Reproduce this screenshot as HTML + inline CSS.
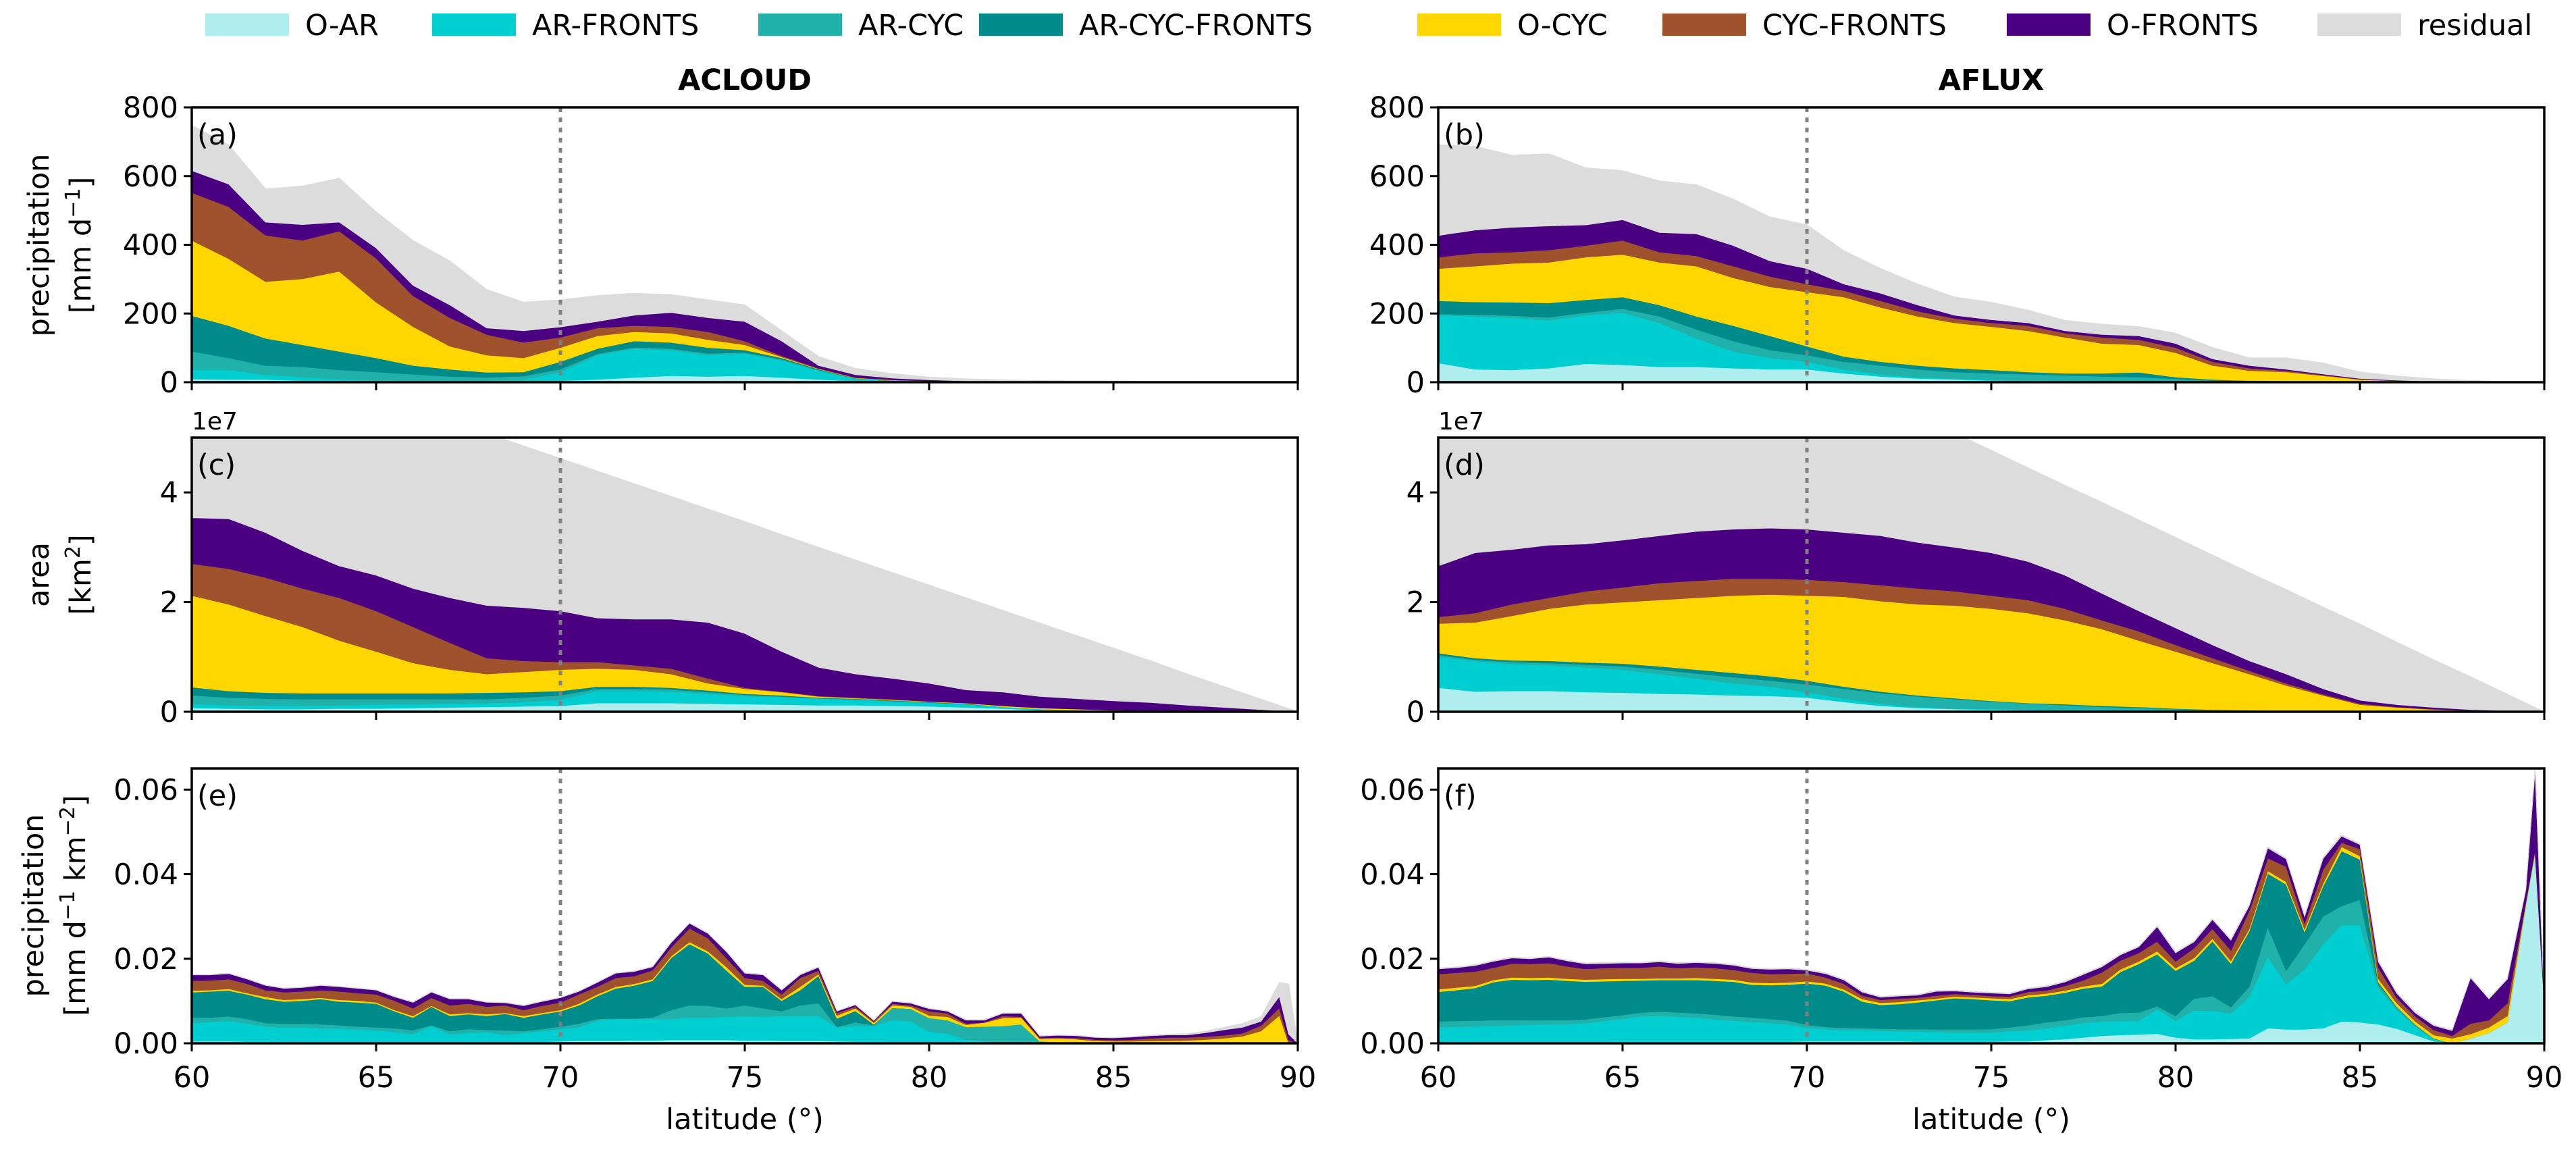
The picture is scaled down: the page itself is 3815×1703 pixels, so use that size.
<!DOCTYPE html>
<html><head><meta charset="utf-8"><style>
html,body{margin:0;padding:0;background:#fff;}
svg{display:block;font-family:"DejaVu Sans","Liberation Sans",sans-serif;}
</style></head><body>
<svg id="fig" width="3815" height="1703" viewBox="0 0 3815 1703" xmlns="http://www.w3.org/2000/svg">
<g id="legend"></g>
<text x="1103" y="133" font-size="43" font-weight="bold" text-anchor="middle">ACLOUD</text>
<text x="2949" y="133" font-size="43" font-weight="bold" text-anchor="middle">AFLUX</text>
<g id="panels"></g>
<text font-size="43" text-anchor="middle" transform="translate(72,363) rotate(-90)">precipitation</text>
<text font-size="43" text-anchor="middle" transform="translate(134,363) rotate(-90)">[mm d<tspan font-size="30" dy="-16">−1</tspan><tspan dy="16">]</tspan></text>
<text font-size="43" text-anchor="middle" transform="translate(72,851) rotate(-90)">area</text>
<text font-size="43" text-anchor="middle" transform="translate(134,851) rotate(-90)">[km<tspan font-size="30" dy="-16">2</tspan><tspan dy="16">]</tspan></text>
<text font-size="43" text-anchor="middle" transform="translate(64,1341) rotate(-90)">precipitation</text>
<text font-size="43" text-anchor="middle" transform="translate(126,1341) rotate(-90)">[mm d<tspan font-size="30" dy="-16">−1</tspan><tspan dy="16"> km</tspan><tspan font-size="30" dy="-16">−2</tspan><tspan dy="16">]</tspan></text>
<text x="1103" y="1672" font-size="43" text-anchor="middle">latitude (°)</text>
<text x="2949" y="1672" font-size="43" text-anchor="middle">latitude (°)</text>
</svg>
<script>
const latDeg = [60,61,62,63,64,65,66,67,68,69,70,71,72,73,74,75,76,77,78,79,80,81,82,83,84,85,86,87,88,89,90];
const latHalf = [60,60.5,61,61.5,62,62.5,63,63.5,64,64.5,65,65.5,66,66.5,67,67.5,68,68.5,69,69.5,70,70.5,71,71.5,72,72.5,73,73.5,74,74.5,75,75.5,76,76.5,77,77.5,78,78.5,79,79.5,80,80.5,81,81.5,82,82.5,83,83.5,84,84.5,85,85.5,86,86.5,87,87.5,88,88.5,89,89.5,89.75,90];
const seriesNames = ["O-AR","AR-FRONTS","AR-CYC","AR-CYC-FRONTS","O-CYC","CYC-FRONTS","O-FRONTS","residual"];
const seriesColors = ["#afeeee","#00ced1","#20b2aa","#008b8b","#ffd700","#a0522d","#4b0082","#dcdcdc"];
const xTicks = [60,65,70,75,80,85,90];
const precipTicks = [0,200,400,600,800];
const areaTicks = [0,2,4];
const areaTickLabels = ["0","2","4"];
const densTicks = [0,20,40,60];
const densTickLabels = ["0.00","0.02","0.04","0.06"];

// (a) ACLOUD precipitation [mm/d]
const aOAR = [9,8,8,5,5,4,3,3,3,3,5,8,14,19,17,19,14,8,4,2,1,1,0,0,0,0,0,0,0,0,0];
const aARFR = [27,28,14,10,4,2,2,2,2,5,25,71,84,75,62,64,50,26,6,3,2,1,1,0,0,0,0,0,0,0,0];
const aARCYC = [54,35,27,30,27,24,18,12,9,10,8,4,4,4,5,4,3,2,1,1,0,0,0,0,0,0,0,0,0,0,0];
const aARCYCFR = [104,94,79,64,54,41,26,21,15,12,22,15,18,18,17,7,4,2,1,0,0,0,0,0,0,0,0,0,0,0,0];
const aOCYC = [219,195,165,192,233,162,113,67,50,41,41,37,27,27,23,15,3,1,1,1,1,0,0,0,0,0,0,0,0,0,0];
const aCYCFR = [139,151,135,112,117,128,90,83,60,45,30,23,18,19,23,11,3,2,1,0,0,0,0,0,0,0,0,0,0,0,0];
const aOFR = [64,66,38,46,26,30,30,37,19,34,30,19,30,41,41,57,43,8,8,5,3,2,2,1,1,1,1,0,0,0,0];
const aRES = [132,114,97,112,128,105,131,128,112,83,79,75,64,52,52,48,30,26,18,13,8,6,4,4,3,3,2,2,1,0,0];
// (b) AFLUX precipitation
const bOAR = [56,38,36,41,54,51,45,45,41,38,38,26,17,11,8,5,4,3,2,2,1,1,0,0,0,0,0,0,0,0,0];
const bARFR = [139,154,152,139,141,152,128,83,49,33,22,12,6,4,3,3,2,2,2,1,1,0,1,0,0,0,0,0,0,0,0];
const bARCYC = [4,5,6,9,8,11,19,26,30,23,19,22,26,23,19,18,17,15,13,12,8,4,2,2,2,1,0,0,0,0,0];
const bARCYCFR = [38,37,39,42,37,34,33,38,45,41,26,15,11,11,11,10,7,6,9,14,5,3,2,2,1,1,1,0,0,0,0];
const bOCYC = [94,104,113,118,124,124,124,146,139,143,158,173,158,143,132,126,120,105,87,80,71,41,29,26,16,6,3,2,1,0,0];
const bCYCFR = [33,38,33,36,34,41,30,30,34,30,23,19,19,15,13,11,15,12,18,15,15,11,7,4,2,1,1,0,0,0,0];
const bOFR = [63,67,72,70,60,60,57,64,60,45,45,19,22,18,9,9,8,7,8,11,12,8,8,4,3,2,1,1,0,0,0];
const bRES = [264,244,210,210,166,143,150,143,135,128,127,97,72,61,53,51,37,30,30,27,30,33,22,33,32,19,12,7,4,2,0];
// (c) ACLOUD area [1e7 km2]
const cOAR = [.07,.06,.05,.05,.06,.06,.07,.08,.09,.10,.11,.16,.16,.16,.15,.14,.13,.12,.12,.11,.10,.08,.06,.03,.02,.01,.01,0,0,0,0];
const cARFR = [.07,.06,.06,.06,.06,.07,.07,.07,.07,.08,.11,.22,.22,.21,.18,.15,.14,.12,.10,.08,.07,.06,.03,.02,.01,.01,0,0,0,0,0];
const cARCYC = [.16,.14,.13,.12,.11,.10,.09,.08,.07,.08,.08,.04,.04,.04,.03,.02,.01,.01,.01,.01,0,0,0,0,0,0,0,0,0,0,0];
const cARCYCFR = [.15,.12,.11,.11,.11,.11,.11,.11,.12,.10,.08,.04,.04,.03,.03,.02,.02,.01,.01,.01,.01,.01,0,0,0,0,0,0,0,0,0];
const cOCYC = [1.67,1.58,1.40,1.21,.96,.76,.55,.43,.34,.37,.39,.33,.31,.25,.13,.09,.06,.02,.01,.01,.01,.01,.02,.02,.02,.01,.01,.01,.01,0,0];
const cCYCFR = [.58,.65,.70,.70,.78,.74,.66,.49,.29,.20,.14,.12,.08,.10,.09,.02,.01,.01,.01,.01,0,0,0,0,0,0,0,0,0,0,0];
const cOFR = [.84,.91,.82,.69,.58,.65,.70,.82,.96,.97,.93,.80,.84,.90,1.02,.99,.73,.52,.43,.38,.33,.24,.25,.21,.19,.17,.15,.11,.07,.04,0];
const cRES = [3.39,3.18,3.20,3.30,3.35,3.29,3.30,3.23,3.14,2.95,2.78,2.68,2.47,2.24,2.07,2.04,2.13,2.19,2.08,1.93,1.79,1.68,1.49,1.34,1.15,.96,.76,.57,.38,.19,0];
// (d) AFLUX area [1e7 km2]
const dOAR = [.44,.37,.38,.38,.36,.35,.33,.32,.30,.29,.26,.18,.11,.07,.05,.04,.03,.02,.02,.01,.01,.01,0,0,0,0,0,0,0,0,0];
const dARFR = [.56,.56,.49,.47,.45,.42,.36,.29,.22,.17,.10,.06,.04,.02,.01,.01,.01,.01,0,.01,0,0,.01,0,0,0,0,0,0,0,0];
const dARCYC = [.04,.02,.04,.04,.05,.06,.08,.09,.11,.11,.14,.18,.19,.19,.17,.14,.11,.09,.07,.05,.04,.02,.01,.01,.01,0,0,0,0,0,0];
const dARCYCFR = [.03,.03,.03,.04,.04,.05,.06,.07,.08,.08,.07,.04,.03,.02,.02,.01,.01,.02,.02,.02,.01,.01,.01,.01,0,0,0,0,0,0,0];
const dOCYC = [.54,.65,.81,.95,1.06,1.12,1.21,1.31,1.41,1.49,1.55,1.64,1.65,1.66,1.69,1.68,1.64,1.53,1.40,1.21,1.04,.85,.66,.46,.29,.13,.08,.04,.02,.01,0];
const dCYCFR = [.12,.17,.21,.20,.24,.27,.31,.31,.31,.29,.29,.27,.29,.29,.26,.24,.24,.21,.16,.17,.12,.09,.06,.04,.02,.02,.01,.01,0,0,0];
const dOFR = [.93,1.10,1.00,.96,.86,.86,.86,.90,.90,.92,.92,.90,.90,.84,.80,.78,.70,.61,.49,.37,.31,.24,.18,.17,.10,.06,.04,.03,.02,.01,0];
const dRES = [6.88,6.32,5.94,5.55,5.21,4.82,4.42,4.02,3.67,3.33,3.03,2.77,2.51,2.32,2.09,1.87,1.71,1.64,1.66,1.66,1.65,1.64,1.61,1.54,1.49,1.39,1.14,.87,.60,.30,0];
// (e) ACLOUD precipitation per area [1e-3 mm/d/km2]
const eOAR = [.5,.5,.5,.4,.4,.3,.3,.3,.2,.2,.2,.2,.2,.2,.2,.2,.2,.2,.2,.3,.5,.6,.6,.6,.7,.7,.8,.8,.8,.8,.7,.7,.6,.6,.6,.5,.4,.4,.3,.3,.3,.2,.2,.1,.1,.1,.1,.1,.1,0,0,0,0,0,0,0,0,0,0,0,0,0];
const eARFR = [4.3,4.6,4.8,4.3,3.6,3.5,3.5,3.3,3.3,3.0,2.9,2.5,2.0,3.9,2.0,2.3,2.5,1.8,2.3,2.6,2.9,3.2,4.8,5.2,5.1,5.1,5.0,5.3,5.3,5.5,5.7,5.6,5.9,5.9,5.9,3.3,3.7,3.7,5.2,4.9,2.5,2.1,.7,.4,.2,.2,.2,.1,.1,.1,.1,0,0,0,0,0,0,0,0,0,0,0];
const eARCYC = [1.3,1.0,1.1,1.1,.8,.9,.9,.9,.8,.8,.7,.9,.9,.2,.7,.9,.5,1.1,.4,.5,.6,.9,.4,.1,.1,.3,2.1,2.9,2.8,2.0,2.6,2.0,1.1,2.5,3.0,.1,.9,.2,2.9,3.0,3.2,3.2,3.0,3.5,3.8,4.2,.2,.1,0,0,0,0,0,0,0,0,0,0,0,0,0,0];
const eARCYCFR = [6.0,6.2,6.1,5.8,5.7,5.2,5.4,6.0,5.6,5.7,5.6,4.0,3.0,4.4,3.6,3.5,3.3,3.9,3.2,3.5,3.6,4.3,5.4,7.1,7.8,8.7,12.3,14.5,12.4,9.0,4.4,5.1,2.5,3.6,6.5,2.0,2.7,.2,0,0,0,0,0,0,0,0,0,0,0,0,0,0,0,0,0,0,0,0,0,0,0,0];
const eOCYC = [.4,.3,.4,.3,.5,.4,.4,.3,.4,.4,.3,.3,.4,.2,.4,.3,.4,.2,.4,.3,.3,.4,.4,.4,.4,.4,.4,.5,.5,.8,.5,.3,.4,.8,.4,.7,.6,.4,.6,.5,.6,.8,.5,.9,1.9,1.6,.6,.9,.8,.5,.4,.5,.6,.6,.7,.9,1.2,1.7,2.9,6.6,.1,0];
const eCYCFR = [2.3,2.3,2.3,2.2,1.6,1.8,1.8,1.8,2.0,1.8,1.9,2.2,1.8,1.9,2.1,2.2,1.8,1.8,1.4,1.7,1.8,2.2,1.8,2.1,1.8,2.1,2.1,3.2,3.1,2.1,1.6,1.1,1.1,2.1,.8,.6,.4,.3,.4,.3,1.0,.8,.3,.1,.5,.2,.2,.2,.3,.3,.3,.4,.6,.8,.7,.7,.7,.7,1.3,1.8,.7,0];
const eOFR = [1.4,1.3,1.3,1.1,1.1,.9,.9,1.1,1.1,1.1,1.0,.9,1.4,1.3,1.5,1.1,1.0,.6,1.0,1.0,1.1,.7,1.0,1.1,1.1,.8,1.1,1.2,1.1,1.5,1.1,1.4,1.0,.7,.8,.4,.4,.2,.5,.5,.6,.5,.8,.5,.6,.8,.4,.5,.5,.5,.5,.6,.6,.6,.6,.9,1.3,1.4,1.0,2.7,1.4,0];
const eRES = [.1,.1,.1,.1,.1,.1,.1,.1,.1,.1,.1,.1,.1,.1,.1,.1,.1,.1,.1,.1,.1,.1,.1,.1,.1,.1,.1,.1,.1,.1,.1,.1,.1,.1,.1,.1,.1,.1,.1,.1,.1,.1,.1,.1,.1,.1,.1,.1,.1,.1,.1,.1,.1,.2,.3,.4,.6,.9,1.1,3.3,11.8,0];
// (f) AFLUX precipitation per area [1e-3]
const fOAR = [.3,.3,.3,.3,.3,.3,.3,.3,.3,.3,.4,.4,.4,.4,.4,.4,.4,.4,.4,.4,.5,.5,.5,.5,.5,.5,.4,.4,.4,.4,.4,.5,.5,.8,1.0,1.4,1.8,2.0,2.1,2.3,1.4,1.0,1.0,1.1,1.2,3.6,3.3,3.3,3.6,5.2,5.0,4.5,3.5,2.0,.5,0,1.2,2.5,5.0,32.7,45.2,10];
const fARFR = [3.6,3.6,3.7,3.9,4.0,4.1,4.2,4.2,4.5,5.0,5.4,6.0,6.1,5.9,5.7,5.3,5.0,4.7,4.4,4.0,3.2,2.9,2.7,2.6,2.5,2.4,2.4,2.3,2.2,2.2,2.2,2.4,2.6,2.8,3.2,3.4,3.4,3.3,3.2,5.8,4.0,6.8,6.7,6.0,9.8,16.9,10.7,14.2,19.9,22.8,23.0,8.6,4.5,2.0,.5,0,0,0,0,0,0,0];
const fARCYC = [1.3,1.4,1.4,1.3,1.2,1.1,1.0,1.0,.9,.9,.9,.9,1.0,1.0,1.0,1.1,1.0,1.0,1.0,1.0,.7,.5,.5,.5,.5,.5,.6,.6,.7,.7,.8,.9,1.2,1.4,1.3,1.4,1.3,1.9,2.0,.7,1.1,2.8,3.5,1.5,2.4,7.0,3.2,6.0,6.5,4.5,6.0,.9,.5,.4,.1,0,0,0,0,0,0,0];
const fARCYCFR = [7.0,7.3,7.7,9.0,9.6,9.5,9.6,9.3,8.9,8.5,8.1,7.6,7.5,7.7,7.9,8.0,8.2,7.8,8.0,8.5,9.8,9.8,8.6,6.3,5.6,5.9,6.3,6.9,7.4,7.2,6.8,6.2,6.6,6.3,6.5,6.8,7.0,9.7,11.5,12.3,10.7,9.0,13.0,10.3,13.2,12.7,20.4,2.9,7.2,13.0,9.5,.5,.2,.1,.1,0,0,0,0,0,0,0];
const fOCYC = [.6,.6,.5,.5,.5,.5,.5,.5,.5,.5,.5,.4,.4,.4,.5,.5,.5,.5,.5,.5,.5,.5,.5,.6,.5,.5,.5,.4,.4,.4,.5,.5,.5,.5,.5,.5,.6,.6,.6,.7,.6,.6,.6,.6,.5,.6,.6,.6,.6,1.0,.8,.8,.8,.7,.8,1.2,1.0,1.3,1.5,.5,.3,0];
const fCYCFR = [3.6,3.5,3.4,2.9,3.3,3.3,3.4,2.9,2.5,2.6,2.6,2.6,2.8,2.4,2.5,2.5,2.3,2.3,2.1,2.1,1.9,1.4,1.3,.8,.7,.8,.6,.7,.6,.6,.5,.6,.8,.7,1.1,1.4,2.7,2.1,2.0,2.3,1.6,2.3,2.3,2.5,4.3,3.0,3.6,1.4,3.3,1.0,1.7,2.6,1.3,1.2,1.2,.6,2.5,1.7,3.0,.3,.3,0];
const fOFR = [1.2,1.2,1.4,1.5,1.3,1.2,1.4,1.3,1.2,1.1,1.1,1.1,1.1,1.1,1.1,1.1,1.1,1.0,1.1,1.1,.7,.9,.9,.8,.6,.6,.6,1.0,.7,.6,.7,.6,.7,.9,.9,1.4,1.3,1.3,1.4,3.5,2.0,1.5,2.2,2.4,1.2,2.4,1.8,1.6,2.6,1.5,1.0,1.4,1.0,.8,1.0,1.2,10.8,5.0,5.7,2.8,18.8,0];
const fRES = [.2,.2,.2,.2,.2,.2,.2,.2,.2,.2,.2,.2,.2,.2,.2,.2,.2,.2,.2,.2,.2,.2,.2,.2,.2,.2,.2,.2,.2,.2,.2,.2,.2,.2,.2,.2,.2,.2,.2,.2,.2,.2,.2,.2,.2,.3,.3,.3,.3,.3,.3,.3,.3,.3,.2,.2,.2,.2,.2,.2,.2,0];

const NS = "http://www.w3.org/2000/svg";
function mk(tag, attrs, parent){
  const e = document.createElementNS(NS, tag);
  for (const k in attrs) e.setAttribute(k, attrs[k]);
  if (parent) parent.appendChild(e);
  return e;
}
const svg = document.getElementById('fig');
const legend = document.getElementById('legend');
const legendX = [304,640,1123,1450,2099,2462,2972,3432];
seriesNames.forEach((n,i)=>{
  const g = mk('g',{},legend);
  
  
  const r = mk('rect',{x:legendX[i],y:20,width:124,height:33,fill:seriesColors[i]},g);
  
  
  const t = mk('text',{x:legendX[i]+148,y:52,'font-size':43},g);
  
  
  t.textContent = n;
});

const panels = [
  {id:'a', x0:284, y0:159, w:1638, h:407, ymax:800, lat:latDeg, s:[aOAR,aARFR,aARCYC,aARCYCFR,aOCYC,aCYCFR,aOFR,aRES], ticks:precipTicks, tl:precipTicks.map(String), xl:false},
  {id:'b', x0:2130, y0:159, w:1638, h:407, ymax:800, lat:latDeg, s:[bOAR,bARFR,bARCYC,bARCYCFR,bOCYC,bCYCFR,bOFR,bRES], ticks:precipTicks, tl:precipTicks.map(String), xl:false},
  {id:'c', x0:284, y0:648, w:1638, h:406, ymax:5, lat:latDeg, s:[cOAR,cARFR,cARCYC,cARCYCFR,cOCYC,cCYCFR,cOFR,cRES], ticks:areaTicks, tl:areaTickLabels, xl:false, off:true},
  {id:'d', x0:2130, y0:648, w:1638, h:406, ymax:5, lat:latDeg, s:[dOAR,dARFR,dARCYC,dARCYCFR,dOCYC,dCYCFR,dOFR,dRES], ticks:areaTicks, tl:areaTickLabels, xl:false, off:true},
  {id:'e', x0:284, y0:1138, w:1638, h:407, ymax:65, lat:latHalf, s:[eOAR,eARFR,eARCYC,eARCYCFR,eOCYC,eCYCFR,eOFR,eRES], ticks:densTicks, tl:densTickLabels, xl:true},
  {id:'f', x0:2130, y0:1138, w:1638, h:407, ymax:65, lat:latHalf, s:[fOAR,fARFR,fARCYC,fARCYCFR,fOCYC,fCYCFR,fOFR,fRES], ticks:densTicks, tl:densTickLabels, xl:true}
];
const root = document.getElementById('panels');
panels.forEach(p=>{
  const xs = lat => p.x0 + (lat-60)/30*p.w;
  const ys = v => p.y0 + p.h - v/p.ymax*p.h;
  const g = mk('g',{},root);
  
  
  const cp = mk('clipPath',{id:'clip'+p.id},g);
  mk('rect',{x:p.x0,y:p.y0,width:p.w,height:p.h},cp);
  const area = mk('g',{'clip-path':'url(#clip'+p.id+')'},g);
  
  
  const base = p.lat.map(()=>0);
  p.s.forEach((ser,i)=>{
    const top = base.map((b,k)=>b+ser[k]);
    let d = '';
    p.lat.forEach((l,k)=>{ d += (k?'L':'M') + xs(l).toFixed(1) + ',' + ys(top[k]).toFixed(1); });
    for (let k=p.lat.length-1;k>=0;k--) d += 'L' + xs(p.lat[k]).toFixed(1) + ',' + ys(base[k]).toFixed(1);
    d += 'Z';
    const path = mk('path',{d:d,fill:seriesColors[i],stroke:seriesColors[i],'stroke-width':1},area);
    
    
    top.forEach((v,k)=>base[k]=v);
  });
  const vl = mk('line',{x1:xs(70),x2:xs(70),y1:p.y0,y2:p.y0+p.h,stroke:'#808080','stroke-width':5,'stroke-dasharray':'7,8'},g);
  
  
  const fr = mk('rect',{x:p.x0,y:p.y0,width:p.w,height:p.h,fill:'none',stroke:'#000','stroke-width':3.5},g);
  
  
  xTicks.forEach(t=>{
    const tk = mk('line',{x1:xs(t),x2:xs(t),y1:p.y0+p.h,y2:p.y0+p.h+12,stroke:'#000','stroke-width':3},g);
    
    
    if (p.xl){
      const tx = mk('text',{x:xs(t),y:p.y0+p.h+65,'font-size':43,'text-anchor':'middle'},g);
      
      
      tx.textContent = String(t);
    }
  });
  p.ticks.forEach((t,i)=>{
    const tk = mk('line',{x1:p.x0-12,x2:p.x0,y1:ys(t),y2:ys(t),stroke:'#000','stroke-width':3},g);
    
    
    const tx = mk('text',{x:p.x0-20,y:ys(t)+15,'font-size':43,'text-anchor':'end'},g);
    
    
    tx.textContent = p.tl[i];
  });
  if (p.off){
    const o = mk('text',{x:p.x0,y:p.y0-12,'font-size':36},g);
    
    
    o.textContent = '1e7';
  }
  const lb = mk('text',{x:p.x0+8,y:p.y0+55,'font-size':43},g);
  
  
  lb.textContent = '(' + p.id + ')';
});
</script>
</body></html>
